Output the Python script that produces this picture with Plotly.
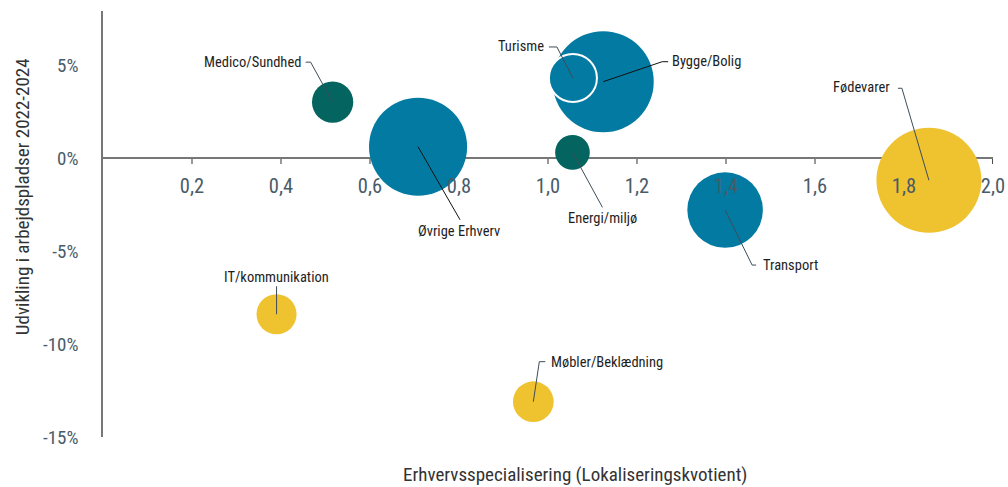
import plotly.graph_objects as go

# --- data -----------------------------------------------------------------
kategorier = ["Fødevarer", "Øvrige Erhverv", "Bygge/Bolig", "Turisme", "Transport",
              "Medico/Sundhed", "Energi/miljø", "IT/kommunikation", "Møbler/Beklædning"]
lokaliseringskvotient = [1.856, 0.708, 1.124, 1.056, 1.398, 0.516, 1.055, 0.390, 0.967]
udvikling_pct = [-1.2, 0.6, 4.1, 4.3, -2.8, 3.0, 0.3, -8.4, -13.1]
beskaeftigede = [11000, 9600, 10200, 2300, 5700, 1700, 1200, 1600, 1650]
klynge = ["gul", "blå", "blå", "blå", "blå", "grøn", "grøn", "gul", "gul"]

x_tickvals = [0.2, 0.4, 0.6, 0.8, 1.0, 1.2, 1.4, 1.6, 1.8, 2.0]
x_ticktext = ["0,2", "0,4", "0,6", "0,8", "1,0", "1,2", "1,4", "1,6", "1,8", "2,0"]
y_tickvals = [-15, -10, -5, 0, 5]
y_ticktext = ["-15%", "-10%", "-5%", "0%", "5%"]

# --- styling ----------------------------------------------------------------
FONT = "Roboto Condensed, Liberation Sans Narrow, Roboto, sans-serif"
farver = {"blå": "#037AA1", "grøn": "#04645F", "gul": "#EFC22F"}
TICK_COLOR = "#4A5B68"
AXIS_COLOR = "#777777"
X_RANGE = [0, 2.0]
Y_RANGE = [-15, 7.9]

# Label placement: leader path (pixels from bubble centre, y up), text shift, anchor
label_layout = {
    "Medico/Sundhed":    dict(path=[(0, 0), (-22, 40), (-27, 40)], dx=-30, dy=40, anchor="right", lc="#3D4D59"),
    "Turisme":           dict(path=[(0, 0), (-16, 31), (-24, 31)], dx=-27, dy=31, anchor="right", lc="#3D4D59"),
    "Bygge/Bolig":       dict(path=[(0, 0), (59, 20), (65, 20)], dx=67, dy=20, anchor="left", lc="#111111"),
    "Øvrige Erhverv":    dict(path=[(0, 0), (42, -73)], dx=41, dy=-85, anchor="center", lc="#111111"),
    "Energi/miljø":      dict(path=[(0, 0), (30, -55)], dx=30, dy=-66, anchor="center", lc="#3D4D59"),
    "Transport":         dict(path=[(0, 0), (27, -55), (31, -55)], dx=36, dy=-55, anchor="left", lc="#3D4D59"),
    "Fødevarer":         dict(path=[(0, 0), (-27, 92), (-31, 92)], dx=-37, dy=93, anchor="right", lc="#3D4D59"),
    "IT/kommunikation":  dict(path=[(0, 0), (0, 28)], dx=0, dy=37, anchor="center", lc="#3D4D59"),
    "Møbler/Beklædning": dict(path=[(0, 0), (6, 40), (12, 40)], dx=16, dy=39, anchor="left", lc="#3D4D59"),
}

MAX_DIAMETER = 105
sizeref = 2.0 * max(beskaeftigede) / MAX_DIAMETER ** 2

fig = go.Figure()
fig.add_trace(go.Scatter(
    x=lokaliseringskvotient,
    y=udvikling_pct,
    mode="markers",
    text=kategorier,
    hoverinfo="text",
    marker=dict(
        size=beskaeftigede,
        sizemode="area",
        sizeref=sizeref,
        color=[farver[k] for k in klynge],
        opacity=1,
        line=dict(color="white", width=[2 if k == "Turisme" else 0 for k in kategorier]),
    ),
    cliponaxis=False,
    showlegend=False,
))

shapes = []
annotations = []

# tick marks on the zero line, kept beneath the bubbles
for v in x_tickvals:
    shapes.append(dict(
        type="line", layer="below",
        xref="x", x0=v, x1=v,
        yref="y", ysizemode="pixel", yanchor=0, y0=0, y1=-6,
        line=dict(color="#111111" if v == x_tickvals[-1] else AXIS_COLOR, width=1.5),
    ))

# leader lines and labels
for navn, xv, yv in zip(kategorier, lokaliseringskvotient, udvikling_pct):
    lay = label_layout[navn]
    pts = lay["path"]
    path = "M" + " L".join(f"{px},{py}" for px, py in pts)
    shapes.append(dict(
        type="path", layer="above",
        xref="x", yref="y",
        xsizemode="pixel", ysizemode="pixel",
        xanchor=xv, yanchor=yv,
        path=path,
        line=dict(color=lay["lc"], width=1),
    ))
    annotations.append(dict(
        x=xv, y=yv, xref="x", yref="y",
        text=navn, showarrow=False,
        xshift=lay["dx"], yshift=lay["dy"],
        xanchor=lay["anchor"], yanchor="middle",
        font=dict(family=FONT, size=14.5, color="#1E1E1E"),
    ))

# axis titles
annotations.append(dict(
    x=0.530, y=-0.087, xref="paper", yref="paper",
    text="Erhvervsspecialisering (Lokaliseringskvotient)", showarrow=False,
    xanchor="center", yanchor="middle",
    font=dict(family=FONT, size=19, color="#333333"),
))
annotations.append(dict(
    x=-0.091, y=0.563, xref="paper", yref="paper",
    text="Udvikling i arbejdspladser 2022-2024", showarrow=False, textangle=-90,
    xanchor="center", yanchor="middle",
    font=dict(family=FONT, size=19, color="#333333"),
))

x_axis_pos = (0 - Y_RANGE[0]) / (Y_RANGE[1] - Y_RANGE[0])

fig.update_layout(
    width=1008, height=487, autosize=False,
    margin=dict(l=103, r=15, t=11, b=50),
    paper_bgcolor="white", plot_bgcolor="white",
    font=dict(family=FONT),
    shapes=shapes,
    annotations=annotations,
    xaxis=dict(
        range=X_RANGE, anchor="free", position=x_axis_pos, automargin=False,
        showgrid=False, zeroline=False, showline=False,
        tickmode="array", tickvals=x_tickvals, ticktext=x_ticktext,
        ticks="", ticklabelstandoff=14,
        tickfont=dict(family=FONT, size=20.5, color=TICK_COLOR),
    ),
    yaxis=dict(
        range=Y_RANGE, automargin=False,
        showgrid=False,
        zeroline=True, zerolinecolor=AXIS_COLOR, zerolinewidth=2,
        showline=True, linecolor=AXIS_COLOR, linewidth=1.5,
        tickmode="array", tickvals=y_tickvals, ticktext=y_ticktext,
        ticks="", ticklabelstandoff=19,
        tickfont=dict(family=FONT, size=19, color=TICK_COLOR),
    ),
)

fig.write_html("out.html")
